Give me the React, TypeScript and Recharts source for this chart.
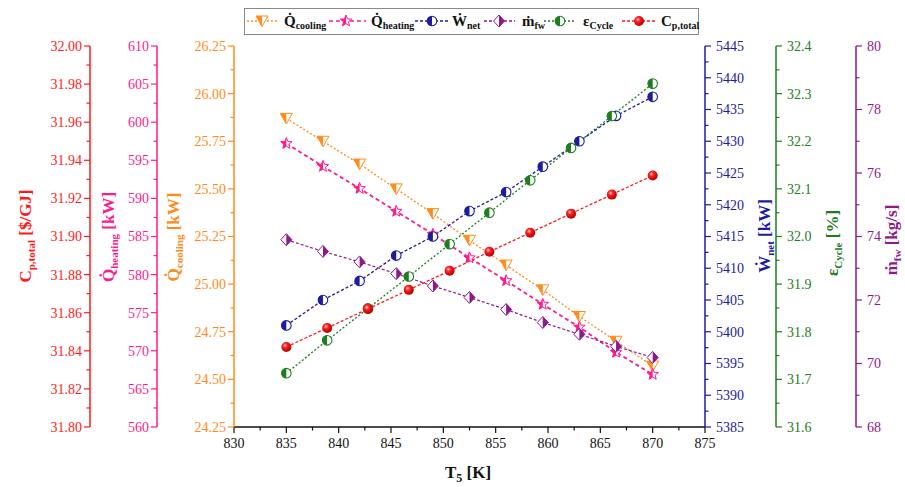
import React from 'react';
import { ComposedChart, Line, XAxis, YAxis } from 'recharts';

const SERIF = '"Liberation Serif", Tinos, "Times New Roman", "DejaVu Serif", serif';

const ORANGE = '#ff8c1a';
const PINK = '#ff1a8c';
const NAVY = '#1c1c9c';
const PURPLE = '#8b1a8b';
const GREEN = '#1e7d1e';
const RED = '#ff1a1a';

// T5 [K] positions of the two point sets
const t5Eleven = [835, 838.5, 842, 845.5, 849, 852.5, 856, 859.5, 863, 866.5, 870];
const t5Ten = [835, 838.9, 842.8, 846.7, 850.6, 854.4, 858.3, 862.2, 866.1, 870];

// series values
const qCooling = [25.87, 25.75, 25.63, 25.5, 25.37, 25.23, 25.1, 24.97, 24.83, 24.7, 24.57];
const qHeating = [597.2, 594.2, 591.3, 588.3, 585.3, 582.2, 579.2, 576.1, 573.1, 569.8, 566.9];
const wNet = [5401, 5405, 5408, 5412, 5415, 5419, 5422, 5426, 5430, 5434, 5437];
const mFw = [73.9, 73.53, 73.2, 72.83, 72.44, 72.08, 71.7, 71.29, 70.92, 70.54, 70.19];
const epsCycle = [31.713, 31.782, 31.849, 31.916, 31.984, 32.05, 32.118, 32.186, 32.253, 32.321];
const cpTotal = [31.842, 31.852, 31.862, 31.872, 31.882, 31.892, 31.902, 31.912, 31.922, 31.932];

// major tick labels
const xTicks = [830, 835, 840, 845, 850, 855, 860, 865, 870, 875];
const cpTicks = [31.8, 31.82, 31.84, 31.86, 31.88, 31.9, 31.92, 31.94, 31.96, 31.98, 32.0];
const heatTicks = [560, 565, 570, 575, 580, 585, 590, 595, 600, 605, 610];
const coolTicks = [24.25, 24.5, 24.75, 25.0, 25.25, 25.5, 25.75, 26.0, 26.25];
const wTicks = [5385, 5390, 5395, 5400, 5405, 5410, 5415, 5420, 5425, 5430, 5435, 5440, 5445];
const epsTicks = [31.6, 31.7, 31.8, 31.9, 32.0, 32.1, 32.2, 32.3, 32.4];
const mTicks = [68, 70, 72, 74, 76, 78, 80];

const rows = (xs: number[], ys: number[]) => xs.map((x, i) => ({ x, y: ys[i] }));

// majors plus a minor tick half way between each pair
const withMinor = (majors: number[]) => {
  const out: number[] = [];
  majors.forEach((m, i) => {
    out.push(m);
    if (i < majors.length - 1) out.push((m + majors[i + 1]) / 2);
  });
  return out;
};

type Kind = 'tri' | 'star' | 'halfL' | 'diamond' | 'ball';

function Marker({ kind, cx, cy, color }: { kind: Kind; cx: number; cy: number; color: string }) {
  if (kind === 'tri') {
    const w = 6;
    const h = 5;
    return (
      <g>
        <polygon points={`${cx - w},${cy - h} ${cx + w},${cy - h} ${cx},${cy + h + 0.6}`} fill="#fff" stroke={color} strokeWidth={1} />
        <polygon points={`${cx - w},${cy - h} ${cx},${cy - h} ${cx},${cy + h + 0.6}`} fill={color} />
      </g>
    );
  }
  if (kind === 'star') {
    const R = 6;
    const r = 2.6;
    const pts: string[] = [];
    for (let i = 0; i < 10; i++) {
      const a = ((-90 + i * 36) * Math.PI) / 180;
      const rad = i % 2 === 0 ? R : r;
      pts.push(`${cx + rad * Math.cos(a)},${cy + rad * Math.sin(a)}`);
    }
    // left half: bottom-centre inner point round to the top point
    const half = [pts[5], pts[6], pts[7], pts[8], pts[9], pts[0]];
    return (
      <g>
        <polygon points={pts.join(' ')} fill="#fff" stroke={color} strokeWidth={1} />
        <polygon points={half.join(' ')} fill={color} />
      </g>
    );
  }
  if (kind === 'halfL') {
    const r = 4.8;
    return (
      <g>
        <circle cx={cx} cy={cy} r={r} fill="#fff" stroke={color} strokeWidth={1.1} />
        <path d={`M${cx},${cy - r} A${r},${r} 0 0 0 ${cx},${cy + r} Z`} fill={color} />
      </g>
    );
  }
  if (kind === 'diamond') {
    const w = 5.5;
    const h = 6;
    return (
      <g>
        <polygon points={`${cx},${cy - h} ${cx + w},${cy} ${cx},${cy + h} ${cx - w},${cy}`} fill="#fff" stroke={color} strokeWidth={1} />
        <polygon points={`${cx},${cy - h} ${cx + w},${cy} ${cx},${cy + h}`} fill={color} />
      </g>
    );
  }
  return <circle cx={cx} cy={cy} r={5} fill="url(#ballGrad)" />;
}

const dotOf = (kind: Kind, color: string) => (p: any) => (
  <Marker key={`${kind}-${p.index}`} kind={kind} cx={p.cx} cy={p.cy} color={color} />
);

const makeTick = (side: 'left' | 'right' | 'bottom', color: string, majors: number[], digits: number) => (props: any) => {
  const { x, y, payload } = props;
  const v = Number(payload.value);
  const major = majors.some((m) => Math.abs(m - v) < 1e-6);
  const len = major ? 6 : 3.5;
  if (side === 'bottom') {
    const ay = y - 9;
    return (
      <g>
        <line x1={x} x2={x} y1={ay} y2={ay + len} stroke={color} strokeWidth={1.2} />
        {major && (
          <text x={x} y={ay + 21} textAnchor="middle" fontSize={14} fill={color} style={{ fontFamily: SERIF }}>
            {v.toFixed(digits)}
          </text>
        )}
      </g>
    );
  }
  const dir = side === 'left' ? -1 : 1;
  const ax = x - dir * 9;
  return (
    <g>
      <line x1={ax} x2={ax + dir * len} y1={y} y2={y} stroke={color} strokeWidth={1.2} />
      {major && (
        <text
          x={ax + dir * (side === 'left' ? 8 : 11)}
          y={y}
          dy="0.35em"
          textAnchor={side === 'left' ? 'end' : 'start'}
          fontSize={14}
          fill={color}
          style={{ fontFamily: SERIF }}
        >
          {v.toFixed(digits)}
        </text>
      )}
    </g>
  );
};

function VTitle({ px, py, color, main, sub, unit }: any) {
  return (
    <text
      x={px}
      y={py}
      transform={`rotate(-90 ${px} ${py})`}
      textAnchor="middle"
      fill={color}
      fontWeight="bold"
      fontSize={17}
      style={{ fontFamily: SERIF }}
    >
      {main}
      <tspan fontSize={11} dy={4}>
        {sub}
      </tspan>
      <tspan dy={-4}>{' ' + unit}</tspan>
    </text>
  );
}

function XTitle() {
  return (
    <text x={468} y={478} textAnchor="middle" fill="#111" fontWeight="bold" fontSize={17} style={{ fontFamily: SERIF }}>
      T<tspan fontSize={12} dy={4}>5</tspan>
      <tspan dy={-4}> [K]</tspan>
    </text>
  );
}

const legendItems: { kind: Kind; color: string; main: string; sub: string; dash: string; lx: number; rx: number; mx: number; tx: number }[] = [
  { kind: 'tri', color: ORANGE, main: 'Q\u0307', sub: 'cooling', dash: '2 2', lx: 3, rx: 34, mx: 18, tx: 40 },
  { kind: 'star', color: PINK, main: 'Q\u0307', sub: 'heating', dash: '4 3', lx: 85, rx: 122, mx: 102, tx: 127 },
  { kind: 'halfL', color: NAVY, main: 'W\u0307', sub: 'net', dash: '3 2', lx: 171, rx: 204, mx: 188, tx: 208 },
  { kind: 'diamond', color: PURPLE, main: 'm\u0307', sub: 'fw', dash: '3 2', lx: 240, rx: 271, mx: 255, tx: 278 },
  { kind: 'halfL', color: GREEN, main: '\u03b5', sub: 'Cycle', dash: '2 2', lx: 300, rx: 330, mx: 316, tx: 339 },
  { kind: 'ball', color: RED, main: 'C', sub: 'p,total', dash: '3 2', lx: 378, rx: 411, mx: 395, tx: 417 },
];

function LegendBox() {
  return (
    <svg width={456} height={28} style={{ position: 'absolute', left: 244, top: 8 }}>
      <defs>
        <radialGradient id="ballGrad" cx="38%" cy="35%" r="65%">
          <stop offset="0%" stopColor="#ffd0d0" />
          <stop offset="35%" stopColor="#ff2020" />
          <stop offset="100%" stopColor="#b00000" />
        </radialGradient>
      </defs>
      <rect x={0.5} y={0.5} width={454} height={26} fill="#fff" stroke="#888" strokeWidth={1} />
      {legendItems.map((it) => (
        <g key={it.sub}>
          <line x1={it.lx} x2={it.rx} y1={13} y2={13} stroke={it.color} strokeWidth={1.4} strokeDasharray={it.dash} />
          <Marker kind={it.kind} cx={it.mx} cy={13} color={it.color} />
          <text x={it.tx} y={18} fontWeight="bold" fontSize={15} fill="#111" style={{ fontFamily: SERIF }}>
            {it.main}
            <tspan fontSize={10} dy={3}>
              {it.sub}
            </tspan>
          </text>
        </g>
      ))}
    </svg>
  );
}

export default function App() {
  return (
    <div style={{ position: 'absolute', left: 0, top: 0, width: 905, height: 487, background: '#fff', fontFamily: SERIF }}>
      <ComposedChart width={905} height={487} margin={{ top: 46, right: 0, bottom: 0, left: 0 }}>
        <XAxis
          dataKey="x"
          type="number"
          domain={[830, 875]}
          ticks={withMinor(xTicks)}
          interval={0}
          height={60}
          tickSize={6}
          tickMargin={3}
          tickLine={false}
          axisLine={{ stroke: '#111', strokeWidth: 1.5 }}
          tick={makeTick('bottom', '#111', xTicks, 0)}
          label={<XTitle />}
        />
        <YAxis
          yAxisId="y1"
          orientation="left"
          width={77}
          type="number"
          domain={[24.25, 26.25]}
          ticks={withMinor(coolTicks)}
          interval={0}
          tickSize={6}
          tickMargin={3}
          tickLine={false}
          axisLine={{ stroke: ORANGE, strokeWidth: 1.5 }}
          tick={makeTick('left', ORANGE, coolTicks, 2)}
          label={<VTitle px={179} py={237} color={ORANGE} main={'Q\u0307'} sub="cooling" unit="[kW]" />}
        />
        <YAxis
          yAxisId="y2"
          orientation="left"
          width={67}
          type="number"
          domain={[560, 610]}
          ticks={withMinor(heatTicks)}
          interval={0}
          tickSize={6}
          tickMargin={3}
          tickLine={false}
          axisLine={{ stroke: PINK, strokeWidth: 1.5 }}
          tick={makeTick('left', PINK, heatTicks, 0)}
          label={<VTitle px={114} py={237} color={PINK} main={'Q\u0307'} sub="heating" unit="[kW]" />}
        />
        <YAxis
          yAxisId="y3"
          orientation="left"
          width={90}
          type="number"
          domain={[31.8, 32.0]}
          ticks={withMinor(cpTicks)}
          interval={0}
          tickSize={6}
          tickMargin={3}
          tickLine={false}
          axisLine={{ stroke: RED, strokeWidth: 1.5 }}
          tick={makeTick('left', RED, cpTicks, 2)}
          label={<VTitle px={31} py={236} color={RED} main="C" sub="p,total" unit="[$/GJ]" />}
        />
        <YAxis
          yAxisId="y4"
          orientation="right"
          width={71}
          type="number"
          domain={[5385, 5445]}
          ticks={withMinor(wTicks)}
          interval={0}
          tickSize={6}
          tickMargin={3}
          tickLine={false}
          axisLine={{ stroke: NAVY, strokeWidth: 1.5 }}
          tick={makeTick('right', NAVY, wTicks, 0)}
          label={<VTitle px={770} py={236} color={NAVY} main={'W\u0307'} sub="net" unit="[kW]" />}
        />
        <YAxis
          yAxisId="y5"
          orientation="right"
          width={80}
          type="number"
          domain={[31.6, 32.4]}
          ticks={withMinor(epsTicks)}
          interval={0}
          tickSize={6}
          tickMargin={3}
          tickLine={false}
          axisLine={{ stroke: GREEN, strokeWidth: 1.5 }}
          tick={makeTick('right', GREEN, epsTicks, 1)}
          label={<VTitle px={838} py={243} color={GREEN} main={'\u03b5'} sub="Cycle" unit="[%]" />}
        />
        <YAxis
          yAxisId="y6"
          orientation="right"
          width={49}
          type="number"
          domain={[68, 80]}
          ticks={withMinor(mTicks)}
          interval={0}
          tickSize={6}
          tickMargin={3}
          tickLine={false}
          axisLine={{ stroke: PURPLE, strokeWidth: 1.5 }}
          tick={makeTick('right', PURPLE, mTicks, 0)}
          label={<VTitle px={897} py={240} color={PURPLE} main={'m\u0307'} sub="fw" unit="[kg/s]" />}
        />
        <Line
          yAxisId="y1"
          data={rows(t5Eleven, qCooling)}
          dataKey="y"
          stroke={ORANGE}
          strokeWidth={1.3}
          strokeDasharray="2 2"
          dot={dotOf('tri', ORANGE)}
          activeDot={false}
          isAnimationActive={false}
        />
        <Line
          yAxisId="y2"
          data={rows(t5Eleven, qHeating)}
          dataKey="y"
          stroke={PINK}
          strokeWidth={1.8}
          strokeDasharray="4 3"
          dot={dotOf('star', PINK)}
          activeDot={false}
          isAnimationActive={false}
        />
        <Line
          yAxisId="y4"
          data={rows(t5Eleven, wNet)}
          dataKey="y"
          stroke={NAVY}
          strokeWidth={1.3}
          strokeDasharray="3 2"
          dot={dotOf('halfL', NAVY)}
          activeDot={false}
          isAnimationActive={false}
        />
        <Line
          yAxisId="y6"
          data={rows(t5Eleven, mFw)}
          dataKey="y"
          stroke={PURPLE}
          strokeWidth={1.2}
          strokeDasharray="3 2"
          dot={dotOf('diamond', PURPLE)}
          activeDot={false}
          isAnimationActive={false}
        />
        <Line
          yAxisId="y5"
          data={rows(t5Ten, epsCycle)}
          dataKey="y"
          stroke={GREEN}
          strokeWidth={1.3}
          strokeDasharray="2 2"
          dot={dotOf('halfL', GREEN)}
          activeDot={false}
          isAnimationActive={false}
        />
        <Line
          yAxisId="y3"
          data={rows(t5Ten, cpTotal)}
          dataKey="y"
          stroke={RED}
          strokeWidth={1.3}
          strokeDasharray="3 2"
          dot={dotOf('ball', RED)}
          activeDot={false}
          isAnimationActive={false}
        />
      </ComposedChart>
      <LegendBox />
    </div>
  );
}
